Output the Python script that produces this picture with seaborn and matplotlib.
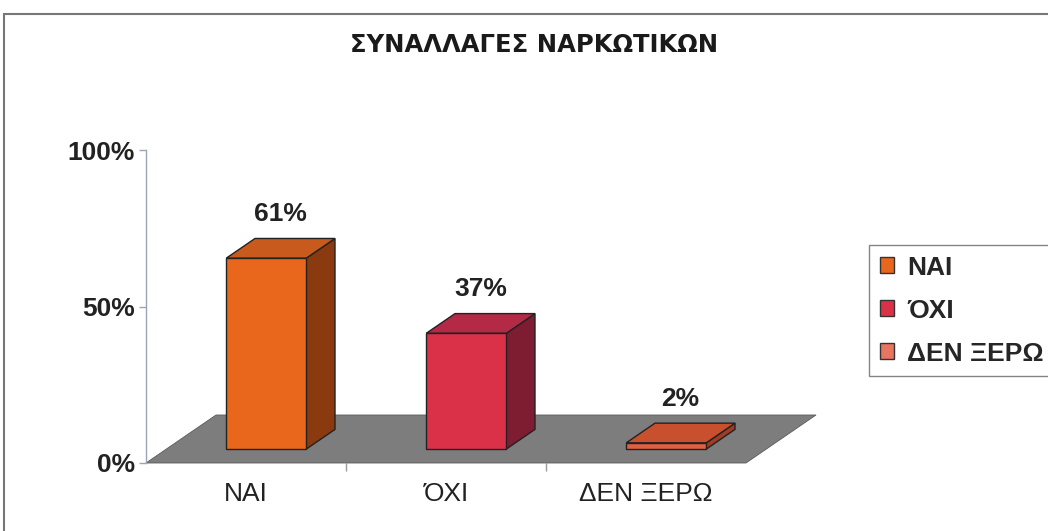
import matplotlib
matplotlib.use("Agg")
import matplotlib.pyplot as plt
import seaborn as sns
import numpy as np
import pandas as pd
from matplotlib.patches import Polygon, Rectangle, Patch

# ---- data ----
categories = ["ΝΑΙ", "ΌΧΙ", "ΔΕΝ ΞΕΡΩ"]
values = [61, 37, 2]
value_labels = ["61%", "37%", "2%"]
yticks = [0, 50, 100]
ytick_labels = ["0%", "50%", "100%"]
title = "ΣΥΝΑΛΛΑΓΕΣ ΝΑΡΚΩΤΙΚΩΝ"

# ---- styles ----
front_colors = ["#E8671C", "#DA3149", "#E0603F"]
top_colors = ["#C85A1E", "#B42A46", "#C9502F"]
side_colors = ["#8A3A0E", "#7E1C32", "#A03B25"]
legend_colors = ["#E8671C", "#DA3149", "#E87462"]

sns.set_style("white")
plt.rcParams["font.family"] = ["Liberation Sans", "DejaVu Sans"]

W, H = 1048, 531
fig = plt.figure(figsize=(W / 100, H / 100), dpi=100)
ax_l, ax_b, ax_w, ax_h = 146, 463, 600, 313
ax = fig.add_axes([ax_l / W, 1 - ax_b / H, ax_w / W, ax_h / H])

df = pd.DataFrame({"cat": categories, "val": values})
sns.barplot(data=df, x="cat", y="val", hue="cat", palette=front_colors,
            width=0.4, legend=False, ax=ax, saturation=1,
            edgecolor="#222222", linewidth=1, zorder=4)
ax.set_xlim(-0.5, 2.5)
ax.set_ylim(0, 100)

# depth geometry (pixels -> data units)
px_x = ax_w / 3.0
px_y = ax_h / 100.0
DX, DY = 70 / px_x, 48 / px_y          # floor depth
f0, f1 = 0.29, 0.70                    # bar front/back along depth

ox, oy = f0 * DX, f0 * DY
sx, sy = (f1 - f0) * DX, (f1 - f0) * DY

bars = sorted(list(ax.patches), key=lambda p: p.get_x())

# floor
floor = Polygon([(-0.5, 0), (2.5, 0), (2.5 + DX, DY), (-0.5 + DX, DY)],
                closed=True, facecolor="#7d7d7d", edgecolor="#5a5a5a",
                linewidth=0.6, clip_on=False, zorder=1)
ax.add_patch(floor)

for i, p in enumerate(bars):
    x0, w, h = p.get_x(), p.get_width(), p.get_height()
    p.set_x(x0 + ox)
    p.set_y(oy)
    p.set_clip_on(False)
    xa, xb = x0 + ox, x0 + ox + w
    top = Polygon([(xa, oy + h), (xb, oy + h), (xb + sx, oy + h + sy), (xa + sx, oy + h + sy)],
                  closed=True, facecolor=top_colors[i], edgecolor="#222222",
                  linewidth=1, clip_on=False, zorder=3)
    side = Polygon([(xb, oy), (xb + sx, oy + sy), (xb + sx, oy + h + sy), (xb, oy + h)],
                   closed=True, facecolor=side_colors[i], edgecolor="#222222",
                   linewidth=1, clip_on=False, zorder=3)
    ax.add_patch(side)
    ax.add_patch(top)
    ax.text((xa + xb) / 2 + sx / 2, oy + h + sy + 4, value_labels[i],
            ha="center", va="bottom", fontsize=19, fontweight="bold",
            color="#222222", clip_on=False)

# axes styling
for s in ["top", "right", "bottom"]:
    ax.spines[s].set_visible(False)
ax.spines["left"].set_color("#9aa5b5")
ax.spines["left"].set_linewidth(1)
ax.set_yticks(yticks)
ax.set_yticklabels(ytick_labels, fontsize=19, fontweight="bold", color="#222222")
ax.tick_params(axis="y", length=5, color="#9aa5b5", width=1, pad=3, left=True)
ax.set_xticks(np.arange(len(categories)))
ax.set_xticklabels(categories, fontsize=19, color="#222222")
ax.tick_params(axis="x", length=0, pad=14)
ax.set_xticks([0.5, 1.5], minor=True)
ax.tick_params(axis="x", which="minor", length=6, color="#9a9a9a", width=1, bottom=True)
ax.set_xlabel("")
ax.set_ylabel("")
ax.patch.set_alpha(0)

# title
fig.text(534 / W, 1 - 45 / H, title, ha="center", va="center", fontsize=17.5,
         fontweight="bold", color="#1a1a1a", family=["DejaVu Sans"])

# legend
handles = [Patch(facecolor=c, edgecolor="#333333", linewidth=1) for c in legend_colors]
leg = fig.legend(handles, categories, loc="upper left",
                 bbox_to_anchor=(869 / W, 1 - 245 / H),
                 frameon=True, fancybox=False, edgecolor="#666666",
                 prop={"size": 19, "weight": "bold"},
                 handlelength=0.55, handleheight=0.55, handletextpad=0.5,
                 labelspacing=0.72, borderpad=0.4, borderaxespad=0)
leg.get_frame().set_linewidth(1)

# outer chart frame
fig.add_artist(Rectangle((4 / W, -0.05), 1.2, 1 - 14 / H + 0.05,
                         transform=fig.transFigure, fill=False,
                         edgecolor="#777777", linewidth=1.5))

fig.savefig("out.png", dpi=100, facecolor="white")
